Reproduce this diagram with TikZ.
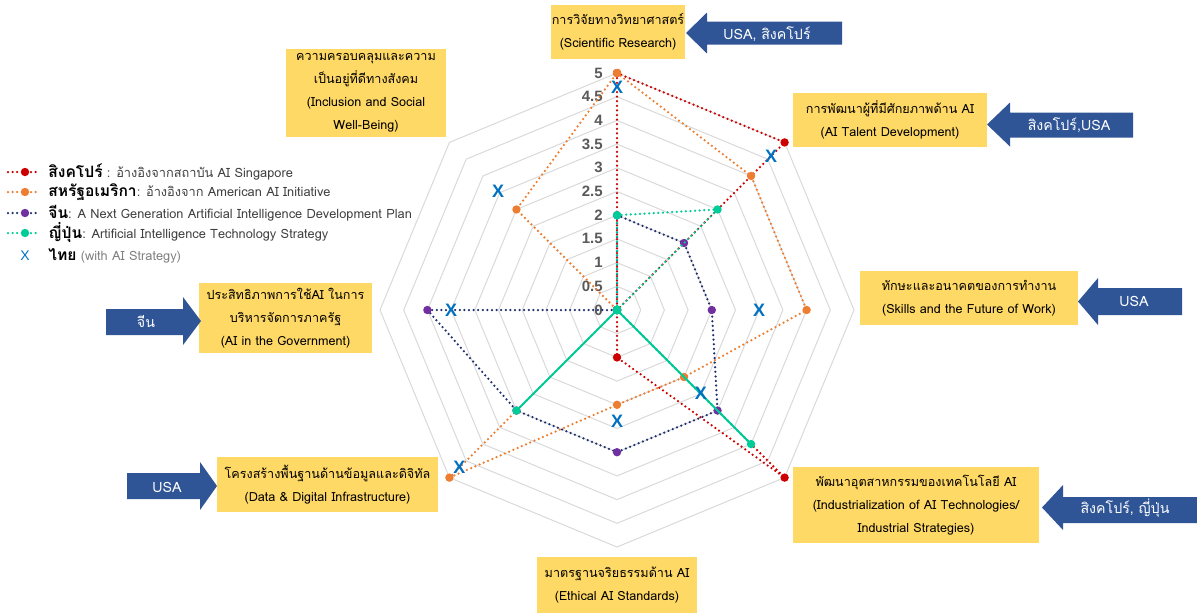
\documentclass[tikz,border=0pt]{standalone}
\usepackage{fontspec}
\setmainfont{Loma}[Script=Thai]
\newfontfamily\xfont{Liberation Sans}
\definecolor{boxc}{RGB}{255,217,102}
\definecolor{arrc}{RGB}{47,85,151}
\definecolor{sgc}{RGB}{204,0,0}
\definecolor{usc}{RGB}{237,125,49}
\definecolor{cnl}{RGB}{32,48,110}
\definecolor{cnp}{RGB}{112,48,160}
\definecolor{jpc}{RGB}{0,204,153}
\definecolor{thc}{RGB}{0,112,192}
\definecolor{gridc}{RGB}{217,217,217}
\definecolor{numc}{RGB}{89,89,89}
\definecolor{legc}{RGB}{64,64,64}
\tikzset{
  boxnode/.style={fill=boxc, inner sep=0pt, align=center, text=black, font=\fontsize{6.3}{11.5}\selectfont},
  arrtext/.style={text=white, inner sep=0pt, font=\fontsize{7.1}{9}\selectfont},
  arrfill/.style={fill=arrc, draw=none},
  ser/.style={line width=1.25pt, dash pattern=on 0pt off 2.3pt, line cap=round},
  ringline/.style={draw=gridc, line width=0.5pt},
  numlab/.style={text=numc, inner sep=0pt, anchor=east, font=\xfont\bfseries\fontsize{7.5}{9}\selectfont},
  xmark/.style={text=thc, inner sep=0pt, font=\xfont\bfseries\fontsize{9}{10}\selectfont},
  legtext/.style={anchor=west, inner sep=0pt, text=legc, font=\fontsize{6.4}{8}\selectfont},
  legbold/.style={font=\bfseries\fontsize{7.8}{8}\selectfont},
}
\begin{document}
\begin{tikzpicture}[x=0.5pt,y=-0.5pt]
\useasboundingbox (0,0) rectangle (1197,612);
\coordinate (C) at (617,310);
% ---------------- radar ----------------
\begin{scope}[shift={(C)}, x=23.7pt, y=23.7pt]
  \foreach \r in {0.5,1,1.5,2,2.5,3,3.5,4,4.5,5}
    \draw[ringline] (90:\r)--(45:\r)--(0:\r)--(-45:\r)--(-90:\r)--(-135:\r)--(180:\r)--(135:\r)--cycle;
  \foreach \v in {0,0.5,1,1.5,2,2.5,3,3.5,4,4.5,5}
    \node[numlab] (n\v) at ([xshift=-7pt]0,\v) {\v};
  % data
  \foreach \v [count=\i from 0] in {5,5,0,5,1,0,0,0} \coordinate (sg\i) at ({90-45*\i}:\v);
  \foreach \v [count=\i from 0] in {5,4,4,2,2,5,0,3} \coordinate (us\i) at ({90-45*\i}:\v);
  \foreach \v [count=\i from 0] in {2,2,2,3,3,3,4,0} \coordinate (cn\i) at ({90-45*\i}:\v);
  \foreach \v [count=\i from 0] in {2,3,0,4,0,3,0,0} \coordinate (jp\i) at ({90-45*\i}:\v);
  \foreach \v [count=\i from 0] in {4.7,4.6,3,2.5,2.35,4.7,3.5,3.55} \coordinate (th\i) at ({90-45*\i}:\v);
  \draw[ser, sgc] (sg0)--(sg1)--(sg2)--(sg3)--(sg4)--(sg5)--(sg6)--(sg7)--cycle;
  \foreach \i in {0,...,7} \fill[sgc] (sg\i) circle (2.1pt);
  \draw[ser, usc] (us0)--(us1)--(us2)--(us3)--(us4)--(us5)--(us6)--(us7)--cycle;
  \foreach \i in {0,...,7} \fill[usc] (us\i) circle (2.1pt);
  \draw[ser, cnl] (cn0)--(cn1)--(cn2)--(cn3)--(cn4)--(cn5)--(cn6)--(cn7)--cycle;
  \foreach \i in {0,...,7} \fill[cnp] (cn\i) circle (2.1pt);
  \draw[ser, jpc] (jp0)--(jp1)--(jp2)--(jp3)--(jp4)--(jp5)--(jp6)--(jp7)--cycle;
  \draw[jpc, line width=0.9pt] (jp2)--(jp3) (jp4)--(jp5);
  \foreach \i in {0,...,7} \fill[jpc] (jp\i) circle (2.1pt);
  \foreach \i in {0,...,7} \node[xmark] (x\i) at (th\i) {X};
\end{scope}
% ---------------- boxes ----------------
\node[boxnode, minimum width=67pt, minimum height=27pt] (b1) at (618,32)
  {การวิจัยทางวิทยาศาสตร์\\(Scientific  Research)};
\node[boxnode, minimum width=97pt, minimum height=27pt] (b2) at (890,120)
  {การพัฒนาผู้ที่มีศักยภาพด้าน AI\\(AI Talent Development)};
\node[boxnode, minimum width=109pt, minimum height=27pt] (b3) at (969,298)
  {ทักษะและอนาคตของการทำงาน\\(Skills and the Future of Work)};
\node[boxnode, minimum width=110.5pt, minimum height=27.5pt] (b6) at (327.5,484.5)
  {โครงสร้างพื้นฐานด้านข้อมูลและดิจิทัล\\(Data \& Digital Infrastructure)};
\node[boxnode, minimum width=123pt, minimum height=38pt] (b4) at (916,505)
  {พัฒนาอุตสาหกรรมของเทคโนโลยี  AI\\(Industrialization of AI Technologies/\\Industrial Strategies)};
\node[boxnode, minimum width=80pt, minimum height=28pt, anchor=north] (b5) at (617,557)
  {มาตรฐานจริยธรรมด้าน AI\\(Ethical AI Standards)};
\node[boxnode, minimum width=86.5pt, minimum height=35pt] (b7) at (285.5,318)
  {ประสิทธิภาพการใช้AI ในการ\\บริหารจัดการภาครัฐ\\(AI in the Government)};
\node[boxnode, minimum width=80pt, minimum height=44pt] (b8) at (366,93)
  {ความครอบคลุมและความ\\เป็นอยู่ที่ดีทางสังคม\\(Inclusion and Social\\Well-Being)};
% ---------------- arrows ----------------
\fill[arrfill] (686,33)--(707,12.5)--(707,21.5)--(842,21.5)--(842,44.5)--(707,44.5)--(707,53.5)--cycle;
\node[arrtext] (a1) at (767,34) {USA, สิงคโปร์};
\fill[arrfill] (987,124.5)--(1010,102.5)--(1010,112.5)--(1133,112.5)--(1133,137.5)--(1010,137.5)--(1010,146.5)--cycle;
\node[arrtext] (a2) at (1069,125) {สิงคโปร์,USA};
\fill[arrfill] (1078,301.5)--(1098,278)--(1098,288)--(1182,288)--(1182,315)--(1098,315)--(1098,325)--cycle;
\node[arrtext] (a3) at (1134,301.5) {USA};
\fill[arrfill] (1042,507.5)--(1063,485)--(1063,497)--(1197,497)--(1197,523)--(1063,523)--(1063,530)--cycle;
\node[arrtext] (a4) at (1125,508) {สิงคโปร์, ญี่ปุ่น};
\fill[arrfill] (201,321)--(183,297)--(183,309)--(106,309)--(106,335)--(183,335)--(183,345)--cycle;
\node[arrtext] (a7) at (146,322) {จีน};
\fill[arrfill] (217,486)--(200,462)--(200,473)--(127,473)--(127,499)--(200,499)--(200,510)--cycle;
\node[arrtext] (a6) at (167,487) {USA};
% ---------------- legend ----------------
\coordinate (la1) at (8,172); \coordinate (lb1) at (40,172);
\coordinate (la2) at (8,192); \coordinate (lb2) at (40,192);
\coordinate (la3) at (8,213); \coordinate (lb3) at (40,213);
\coordinate (la4) at (8,233); \coordinate (lb4) at (40,233);
\draw[ser, sgc] (la1)--(lb1); \fill[sgc] (25,172) circle (2.1pt);
\draw[ser, usc] (la2)--(lb2); \fill[usc] (25,192) circle (2.1pt);
\draw[ser, cnl] (la3)--(lb3); \fill[cnp] (25,213) circle (2.1pt);
\draw[ser, jpc] (la4)--(lb4); \fill[jpc] (25,233) circle (2.1pt);
\node[text=thc, inner sep=0pt, font=\xfont\fontsize{7}{8}\selectfont] (lx) at (25,256) {X};
\node[legtext] (l1) at (48,172) {\textcolor{black}{\tikzset{}\bfseries\fontsize{7.8}{8}\selectfont สิงคโปร์} : อ้างอิงจากสถาบัน AI Singapore};
\node[legtext] (l2) at (48,192) {\textcolor{black}{\bfseries\fontsize{7.8}{8}\selectfont สหรัฐอเมริกา}: อ้างอิงจาก American AI Initiative};
\node[legtext] (l3) at (48,213) {\textcolor{black}{\bfseries\fontsize{7.8}{8}\selectfont จีน}: A Next Generation Artificial Intelligence Development Plan};
\node[legtext] (l4) at (48,233) {\textcolor{black}{\bfseries\fontsize{7.8}{8}\selectfont ญี่ปุ่น}: Artificial Intelligence Technology Strategy};
\node[legtext] (l5) at (48,256) {\textcolor{black}{\bfseries\fontsize{7.8}{8}\selectfont ไทย} \textcolor{gray}{(with AI Strategy)}};
\end{tikzpicture}
\end{document}
